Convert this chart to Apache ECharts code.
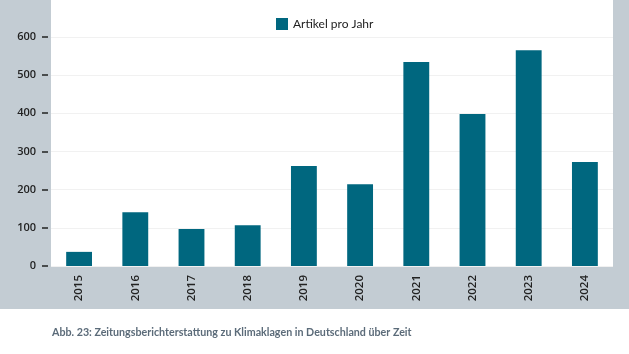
<!DOCTYPE html>
<html lang="de">
<head>
<meta charset="utf-8">
<title>Zeitungsberichterstattung zu Klimaklagen</title>
<script src="https://cdn.jsdelivr.net/npm/echarts@6/dist/echarts.min.js"></script>
<style>
  html, body { margin: 0; padding: 0; background: #fff; }
  #main { width: 629px; height: 354px; }
</style>
</head>
<body>
<div id="main"></div>
<script type="text/javascript">
// Daten
var years = ['2015', '2016', '2017', '2018', '2019', '2020', '2021', '2022', '2023', '2024'];
var articles = [37, 141, 97, 107, 262, 214, 534, 398, 565, 272];
var seriesName = 'Artikel pro Jahr';
var caption = 'Abb. 23: Zeitungsberichterstattung zu Klimaklagen in Deutschland über Zeit';

var chart = echarts.init(document.getElementById('main'));

var option = {
  backgroundColor: '#fff',
  animation: false,
  textStyle: { fontFamily: 'Open Sans' },
  graphic: [{
    type: 'rect',
    z: -10,
    shape: { x: 0, y: 0, width: 629, height: 309 },
    style: { fill: '#c3ccd3' }
  }],
  title: {
    text: caption,
    left: 47,
    top: 322,
    textStyle: {
      fontFamily: 'Lato',
      fontSize: 10.7,
      fontWeight: 'bold',
      color: '#5b6b79'
    }
  },
  legend: {
    data: [seriesName],
    left: 271,
    top: 13,
    itemWidth: 12,
    itemHeight: 12,
    itemGap: 6,
    icon: 'rect',
    textStyle: { fontFamily: 'Lato', fontSize: 12, color: '#222' }
  },
  grid: {
    left: 51,
    right: 16,
    top: -4,
    bottom: 88,
    outerBoundsMode: 'none',
    show: true,
    backgroundColor: '#fff',
    borderWidth: 0
  },
  xAxis: {
    type: 'category',
    data: years,
    axisLine: { show: false },
    axisTick: { show: false },
    axisLabel: {
      rotate: 90,
      margin: 9,
      fontSize: 11.5,
      fontWeight: 600,
      color: '#222'
    }
  },
  yAxis: {
    type: 'value',
    min: 0,
    max: 707,
    interval: 100,
    offset: 3,
    axisLine: { show: false },
    axisTick: { show: true, length: 6, lineStyle: { color: '#222', width: 1.5 } },
    axisLabel: {
      margin: 12,
      fontSize: 11,
      fontWeight: 600,
      color: '#222',
      formatter: function (v) { return v > 600 ? '' : v; }
    },
    splitLine: { lineStyle: { color: '#f1f1f1' } }
  },
  series: [{
    name: seriesName,
    type: 'bar',
    data: articles,
    barWidth: '46%',
    itemStyle: { color: '#00677f' }
  }]
};

chart.setOption(option);
</script>
</body>
</html>
